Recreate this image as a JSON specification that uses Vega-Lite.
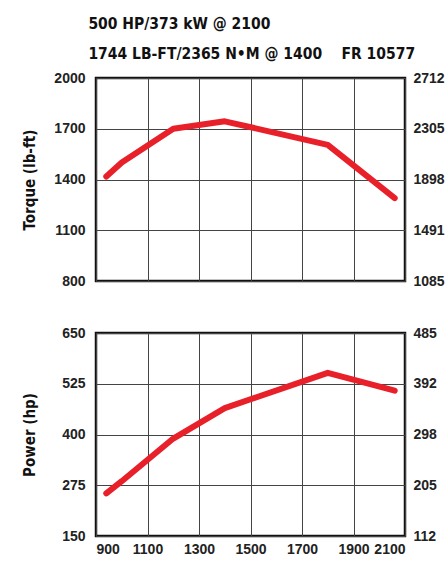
{
  "$schema": "https://vega.github.io/schema/vega-lite/v6.json",
  "padding": {"left": 21, "top": 17, "right": 2, "bottom": 2},
  "background": "white",
  "title": {
    "text": ["500 HP/373 kW @ 2100", "1744 LB-FT/2365 N•M @ 1400\u00a0\u00a0\u00a0\u00a0FR 10577"],
    "anchor": "start",
    "frame": "bounds",
    "font": "DejaVu Sans Condensed",
    "fontSize": 15.5,
    "fontWeight": "bold",
    "lineHeight": 30,
    "color": "#111",
    "offset": 7,
    "dx": 67
  },
  "data": {
    "values": [
      {"rpm": 940, "torque": 1418, "power": 255},
      {"rpm": 1000, "torque": 1500, "power": 285},
      {"rpm": 1200, "torque": 1700, "power": 390},
      {"rpm": 1400, "torque": 1744, "power": 465},
      {"rpm": 1800, "torque": 1605, "power": 552},
      {"rpm": 2060, "torque": 1290, "power": 508}
    ]
  },
  "config": {
    "view": {"stroke": "#111", "strokeWidth": 2.5},
    "axis": {
      "labelFont": "Liberation Sans",
      "labelFontSize": 14,
      "labelFontWeight": "bold",
      "labelColor": "#222",
      "ticks": false,
      "domain": false,
      "gridColor": "#444",
      "gridWidth": 1,
      "gridOpacity": 1,
      "titleFont": "DejaVu Sans Condensed",
      "titleFontSize": 15,
      "titleFontWeight": "bold",
      "titleColor": "#111"
    }
  },
  "spacing": 34,
  "vconcat": [
    {
      "width": 309,
      "height": 203,
      "layer": [
        {
          "mark": {"type": "line", "color": "#E8202A", "strokeWidth": 6, "strokeCap": "round", "strokeJoin": "round"},
          "encoding": {
            "x": {"field": "rpm", "type": "quantitative", "scale": {"domain": [900, 2100], "nice": false},
                  "axis": {"values": [900, 1100, 1300, 1500, 1700, 1900, 2100], "labels": false, "title": null, "grid": true}},
            "y": {"field": "torque", "type": "quantitative", "scale": {"domain": [800, 2000], "nice": false, "zero": false},
                  "axis": {"values": [800, 1100, 1400, 1700, 2000], "format": "d", "title": "Torque (lb-ft)", "grid": true, "labelPadding": 11, "titlePadding": 16}}
          }
        },
        {
          "mark": {"type": "line", "opacity": 0},
          "encoding": {
            "x": {"field": "rpm", "type": "quantitative"},
            "y": {"field": "torque", "type": "quantitative", "scale": {"domain": [800, 2000], "nice": false, "zero": false},
                  "axis": {"orient": "right", "values": [800, 1100, 1400, 1700, 2000], "labelExpr": "format(datum.value*1.3558,'.0f')", "title": null, "grid": false, "labelPadding": 8}}
          }
        }
      ],
      "resolve": {"scale": {"y": "independent"}}
    },
    {
      "width": 309,
      "height": 203,
      "layer": [
        {
          "mark": {"type": "line", "color": "#E8202A", "strokeWidth": 6, "strokeCap": "round", "strokeJoin": "round"},
          "encoding": {
            "x": {"field": "rpm", "type": "quantitative", "scale": {"domain": [900, 2100], "nice": false},
                  "axis": {"values": [900, 1100, 1300, 1500, 1700, 1900, 2100], "title": null, "grid": true, "labelPadding": 6, "format": "d"}},
            "y": {"field": "power", "type": "quantitative", "scale": {"domain": [150, 650], "nice": false, "zero": false},
                  "axis": {"values": [150, 275, 400, 525, 650], "format": "d", "title": "Power (hp)", "grid": true, "labelPadding": 11, "titlePadding": 24}}
          }
        },
        {
          "mark": {"type": "line", "opacity": 0},
          "encoding": {
            "x": {"field": "rpm", "type": "quantitative"},
            "y": {"field": "power", "type": "quantitative", "scale": {"domain": [150, 650], "nice": false, "zero": false},
                  "axis": {"orient": "right", "values": [150, 275, 400, 525, 650], "labelExpr": "format(datum.value*0.746,'.0f')", "title": null, "grid": false, "labelPadding": 8}}
          }
        }
      ],
      "resolve": {"scale": {"y": "independent"}}
    }
  ]
}
